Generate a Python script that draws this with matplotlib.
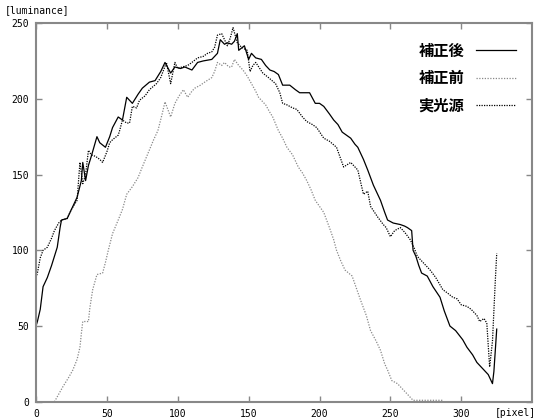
import matplotlib
matplotlib.use('Agg')
import matplotlib.pyplot as plt

plt.rcParams['font.family'] = ['Noto Sans CJK JP', 'DejaVu Sans']

# 補正後 (corrected)
after_x = [0, 1, 3, 5, 8, 11, 15, 17, 18, 22, 25, 29, 32, 33, 35, 37, 39, 43, 45, 49,
           52, 54, 58, 61, 64, 68, 72, 75, 80, 84, 88, 91, 95, 98, 102, 105, 110, 114,
           118, 124, 128, 130, 133, 135, 138, 140, 142, 143, 147, 150, 152, 155, 159,
           162, 165, 168, 171, 174, 179, 183, 186, 190, 193, 197, 200, 203, 207, 210,
           213, 216, 219, 222, 225, 227, 231, 234, 238, 241, 243, 246, 248, 252, 257,
           260, 262, 265, 266, 268, 270, 272, 276, 280, 285, 288, 292, 296, 301, 304,
           308, 311, 315, 319, 322, 323, 325]
after_y = [50, 53, 61, 76, 82, 90, 102, 115, 120, 121, 127, 135, 146, 158, 146, 156, 162, 175, 171, 168,
           175, 181, 188, 186, 201, 197, 203, 207, 211, 212, 218, 224, 217, 221, 220, 221, 219, 224,
           225, 226, 230, 239, 236, 237, 236, 238, 243, 232, 235, 226, 230, 227, 226,
           222, 219, 218, 216, 209, 209, 206, 204, 204, 204, 197, 197, 195, 190, 186,
           183, 178, 176, 174, 170, 168, 160, 153, 143, 137, 133, 125, 120, 118, 117,
           116, 115, 113, 100, 96, 90, 85, 83, 76, 69, 60, 50, 47, 41, 36,
           31, 26, 22, 18, 12, 20, 48]

# 補正前 (before correction)
before_x = [13, 16, 19, 23, 26, 29, 31, 32, 33, 37, 38, 40, 43, 47, 49, 51, 54, 58, 61, 64,
            68, 72, 75, 79, 83, 86, 89, 91, 93, 95, 98, 101, 104, 107, 110, 112, 116, 119,
            124, 126, 128, 131, 133, 136, 138, 140, 143, 146, 149, 152, 155, 157, 160, 162,
            165, 167, 171, 174, 177, 181, 185, 188, 191, 194, 197, 200, 203, 205, 207, 210,
            212, 215, 218, 223, 226, 229, 233, 236, 240, 243, 246, 248, 251, 255, 259, 262,
            266, 287]
before_y = [0, 5, 10, 16, 21, 28, 36, 45, 53, 53, 62, 74, 84, 85, 92, 100, 111, 120, 127, 137,
            142, 148, 155, 164, 173, 179, 190, 198, 193, 188, 197, 202, 206, 201, 205, 207, 209, 211,
            214, 218, 224, 222, 224, 221, 221, 226, 222, 219, 215, 210, 205, 201, 198, 196,
            191, 188, 179, 174, 168, 163, 155, 151, 146, 140, 133, 129, 125, 120, 115, 107,
            100, 93, 87, 83, 75, 67, 57, 47, 40, 34, 25, 21, 14, 12, 8, 5,
            1, 1]

# 実光源 (real light source)
real_x = [0, 1, 3, 5, 8, 11, 13, 16, 18, 22, 25, 29, 31, 33, 35, 37, 39, 42, 45, 47,
          50, 52, 54, 58, 59, 61, 64, 66, 68, 71, 73, 77, 80, 85, 88, 92, 95, 98, 100,
          103, 107, 110, 114, 118, 121, 124, 126, 128, 131, 133, 135, 137, 139, 142, 145,
          149, 151, 153, 155, 160, 164, 169, 172, 174, 177, 181, 184, 188, 191, 195, 198,
          203, 207, 212, 217, 222, 227, 231, 234, 236, 241, 245, 247, 250, 253, 257, 260,
          264, 267, 269, 273, 278, 282, 287, 290, 294, 297, 300, 304, 307, 311, 313, 316,
          318, 320, 322, 324, 325]
real_y = [82, 85, 95, 100, 102, 108, 113, 118, 120, 121, 127, 133, 158, 144, 150, 166, 163, 162, 160, 158,
          165, 171, 173, 176, 179, 186, 184, 184, 195, 194, 199, 202, 206, 210, 214, 224, 210, 224, 220,
          221, 222, 224, 227, 228, 230, 231, 234, 242, 243, 239, 235, 240, 247, 237, 234,
          232, 218, 222, 224, 217, 214, 210, 204, 197, 196, 194, 193, 188, 185, 183, 181,
          174, 172, 168, 155, 158, 153, 137, 139, 129, 122, 117, 115, 109, 113, 115, 112,
          107, 101, 96, 92, 87, 82, 74, 72, 69, 68, 64, 63, 61, 57, 53, 55,
          52, 23, 40, 80, 98]

fig = plt.figure(figsize=(5.37, 4.19), dpi=100)
ax = fig.add_axes([0.067, 0.041, 0.924, 0.904])

ax.plot(after_x, after_y, color='black', lw=0.9, label='補正後')
ax.plot(before_x, before_y, color='#888888', lw=0.9, ls=(0, (1, 1.2)), label='補正前')
ax.plot(real_x, real_y, color='black', lw=0.9, ls=(0, (1, 1)), label='実光源')

ax.set_xlim(0, 350)
ax.set_ylim(0, 250)
ax.set_xticks(range(0, 301, 50))
ax.set_yticks(range(0, 251, 50))
ax.tick_params(direction='in', length=4, width=1, color='#888888',
               top=True, right=True, labelsize=7, pad=5)
for lab in ax.get_xticklabels() + ax.get_yticklabels():
    lab.set_family('DejaVu Sans Mono')
for sp in ax.spines.values():
    sp.set_color('#888888')
    sp.set_linewidth(1.5)

leg = ax.legend(loc='upper right', bbox_to_anchor=(0.995, 0.985), frameon=False,
                markerfirst=False, handlelength=2.6, labelspacing=0.75,
                prop={'size': 11, 'weight': 'bold'})

fig.text(0.008, 0.965, '[luminance]', fontsize=7, family='DejaVu Sans Mono', va='bottom')
fig.text(0.998, 0.002, '[pixel]', fontsize=7, family='DejaVu Sans Mono',
         ha='right', va='bottom')

fig.savefig('out.png', dpi=100)
